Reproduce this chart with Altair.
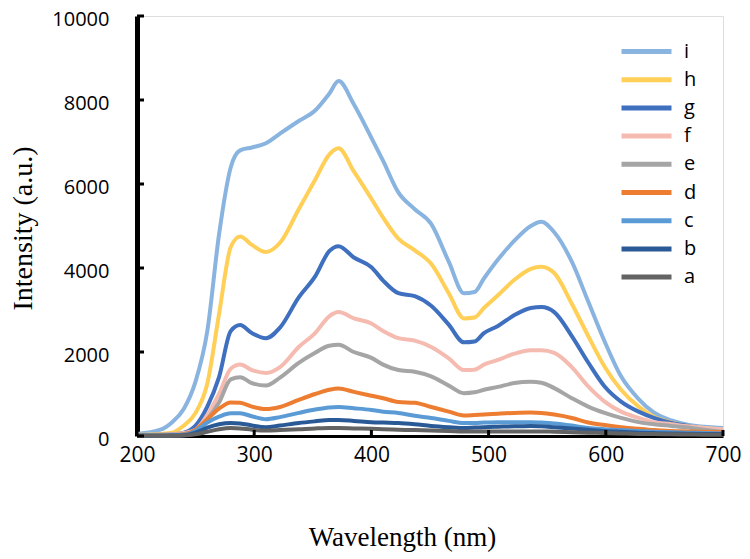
import altair as alt
import pandas as pd

wavelength = [200, 220, 230, 240, 250, 260, 270, 280, 288, 298, 310, 322, 338, 352, 364, 372, 385,
              400, 410, 423, 437, 451, 466, 479, 488, 496, 508, 522, 536, 545, 556, 571, 585, 599,
              613, 628, 641, 656, 670, 684, 700]

series_i = [50, 150, 330, 650, 1300, 2500, 4800, 6400, 6800, 6870, 6970, 7200, 7500, 7750, 8150, 8450, 7900,
            7100, 6550, 5800, 5400, 5050, 4150, 3400, 3430, 3750, 4200, 4650, 5000, 5100, 4850, 4150, 3200, 2250,
            1420, 880, 560, 370, 270, 220, 190]
series_h = [30, 50, 80, 250, 550, 1250, 2900, 4500, 4750, 4550, 4380, 4600, 5400, 6100, 6700, 6850, 6300,
            5650, 5200, 4700, 4420, 4100, 3400, 2800, 2820, 3050, 3350, 3720, 3980, 4030, 3880, 3150, 2380, 1650,
            1100, 700, 460, 320, 240, 190, 150]
series_g = [20, 30, 40, 80, 250, 700, 1400, 2500, 2640, 2450, 2330, 2580, 3300, 3800, 4400, 4520, 4250,
            4020, 3700, 3400, 3330, 3100, 2650, 2230, 2250, 2450, 2620, 2880, 3050, 3070, 2950, 2380, 1750, 1180,
            820, 580, 430, 310, 240, 170, 120]
series_f = [20, 30, 40, 70, 150, 500, 1000, 1600, 1700, 1570, 1500, 1640, 2120, 2450, 2850, 2950, 2800,
            2680, 2500, 2330, 2270, 2120, 1850, 1570, 1580, 1700, 1810, 1960, 2040, 2040, 1980, 1640, 1180, 820,
            580, 430, 330, 280, 230, 190, 160]
series_e = [10, 20, 30, 50, 120, 400, 800, 1350, 1400, 1260, 1200, 1390, 1740, 1980, 2150, 2170, 2000,
            1860, 1700, 1570, 1530, 1420, 1200, 1020, 1040, 1100, 1170, 1260, 1290, 1270, 1140, 900, 700, 550,
            430, 330, 280, 240, 200, 150, 100]
series_d = [10, 10, 20, 40, 150, 400, 650, 800, 790, 700, 640, 690, 860, 1000, 1100, 1130, 1050,
            960, 900, 810, 790, 690, 580, 490, 500, 510, 530, 550, 560, 550, 510, 430, 320, 260,
            210, 170, 140, 120, 110, 100, 90]
series_c = [10, 10, 15, 30, 120, 320, 460, 540, 540, 470, 400, 450, 550, 630, 680, 690, 660,
            620, 580, 550, 480, 430, 360, 310, 310, 320, 330, 330, 330, 320, 300, 250, 190, 160,
            140, 120, 100, 90, 80, 70, 60]
series_b = [5, 5, 10, 20, 80, 200, 280, 310, 300, 250, 210, 250, 310, 350, 380, 380, 360,
            330, 320, 310, 280, 240, 210, 190, 200, 210, 220, 230, 240, 230, 210, 180, 150, 120,
            100, 80, 70, 60, 55, 50, 50]
series_a = [5, 5, 5, 10, 40, 100, 160, 190, 180, 150, 130, 140, 160, 180, 190, 190, 180,
            170, 160, 150, 140, 130, 120, 110, 110, 110, 110, 110, 110, 110, 100, 90, 80, 70,
            60, 50, 45, 40, 35, 30, 30]

labels = ["i", "h", "g", "f", "e", "d", "c", "b", "a"]
colors = ["#8AB4E0", "#FFCF57", "#3F6FBF", "#F5BBB0", "#A5A5A5", "#ED7D31", "#5B9BD5", "#2A5A96", "#636363"]
y_ticks = [0, 2000, 4000, 6000, 8000, 10000]
x_ticks = [200, 300, 400, 500, 600, 700]

all_series = {"i": series_i, "h": series_h, "g": series_g, "f": series_f, "e": series_e,
              "d": series_d, "c": series_c, "b": series_b, "a": series_a}

rows = []
for name, vals in all_series.items():
    for w, v in zip(wavelength, vals):
        rows.append({"wl": w, "val": v, "series": name})
df = pd.DataFrame(rows)

W, H = 586, 420
sans = "Open Sans"
serif = "Liberation Serif"

xscale = alt.Scale(domain=[200, 700], nice=False, zero=False)
yscale = alt.Scale(domain=[0, 10000], nice=False)

lines = alt.Chart(df).mark_line(strokeWidth=4, interpolate="monotone").encode(
    x=alt.X("wl:Q", scale=xscale,
            axis=alt.Axis(values=x_ticks, format="d", title="Wavelength (nm)", grid=False, ticks=False,
                          domainColor="black", domainWidth=3, labelFont=sans, labelFontSize=21,
                          labelColor="black", labelPadding=8, labelFlush=False,
                          titleFont=serif, titleFontSize=27, titleFontWeight="normal", titleColor="black",
                          titleX=265, titleY=101, titleBaseline="middle", titleAlign="center")),
    y=alt.Y("val:Q", scale=yscale,
            axis=alt.Axis(values=y_ticks, format="d", title="Intensity (a.u.)", grid=False, ticks=False,
                          domainColor="black", domainWidth=5, labelFont=sans, labelFontSize=20,
                          labelColor="black", labelPadding=28, labelFlush=False, labelOffset=3,
                          titleFont=serif, titleFontSize=28, titleFontWeight="normal", titleColor="black",
                          titleX=-114, titleY=212, titleBaseline="middle", titleAlign="center",
                          titleAngle=270)),
    color=alt.Color("series:N", scale=alt.Scale(domain=labels, range=colors),
                    legend=alt.Legend(title=None, orient="none", legendX=497, legendY=23,
                                      symbolType="M-2.5,0H2.5", symbolSize=400, symbolStrokeWidth=5,
                                      labelFont=sans, labelFontSize=20, labelColor="black",
                                      rowPadding=5.2, labelOffset=25, padding=0)),
)

ytick_df = pd.DataFrame({"t": y_ticks})
yticks = alt.Chart(ytick_df).mark_rule(color="black", strokeWidth=3).encode(
    y=alt.Y("t:Q", scale=yscale), x=alt.value(0), x2=alt.value(7))

xtick_df = pd.DataFrame({"t": x_ticks})
xticks = alt.Chart(xtick_df).mark_rule(color="black", strokeWidth=3).encode(
    x=alt.X("t:Q", scale=xscale), y=alt.value(H), y2=alt.value(H - 6))

chart = alt.layer(lines, yticks, xticks).properties(
    width=W, height=H,
    autosize=alt.AutoSizeParams(type="none"),
    padding={"left": 129, "top": 8, "right": 19, "bottom": 120},
).configure_view(stroke=None).configure(background="white")

chart.save("out.html", embed_options={"renderer": "svg", "actions": False})
